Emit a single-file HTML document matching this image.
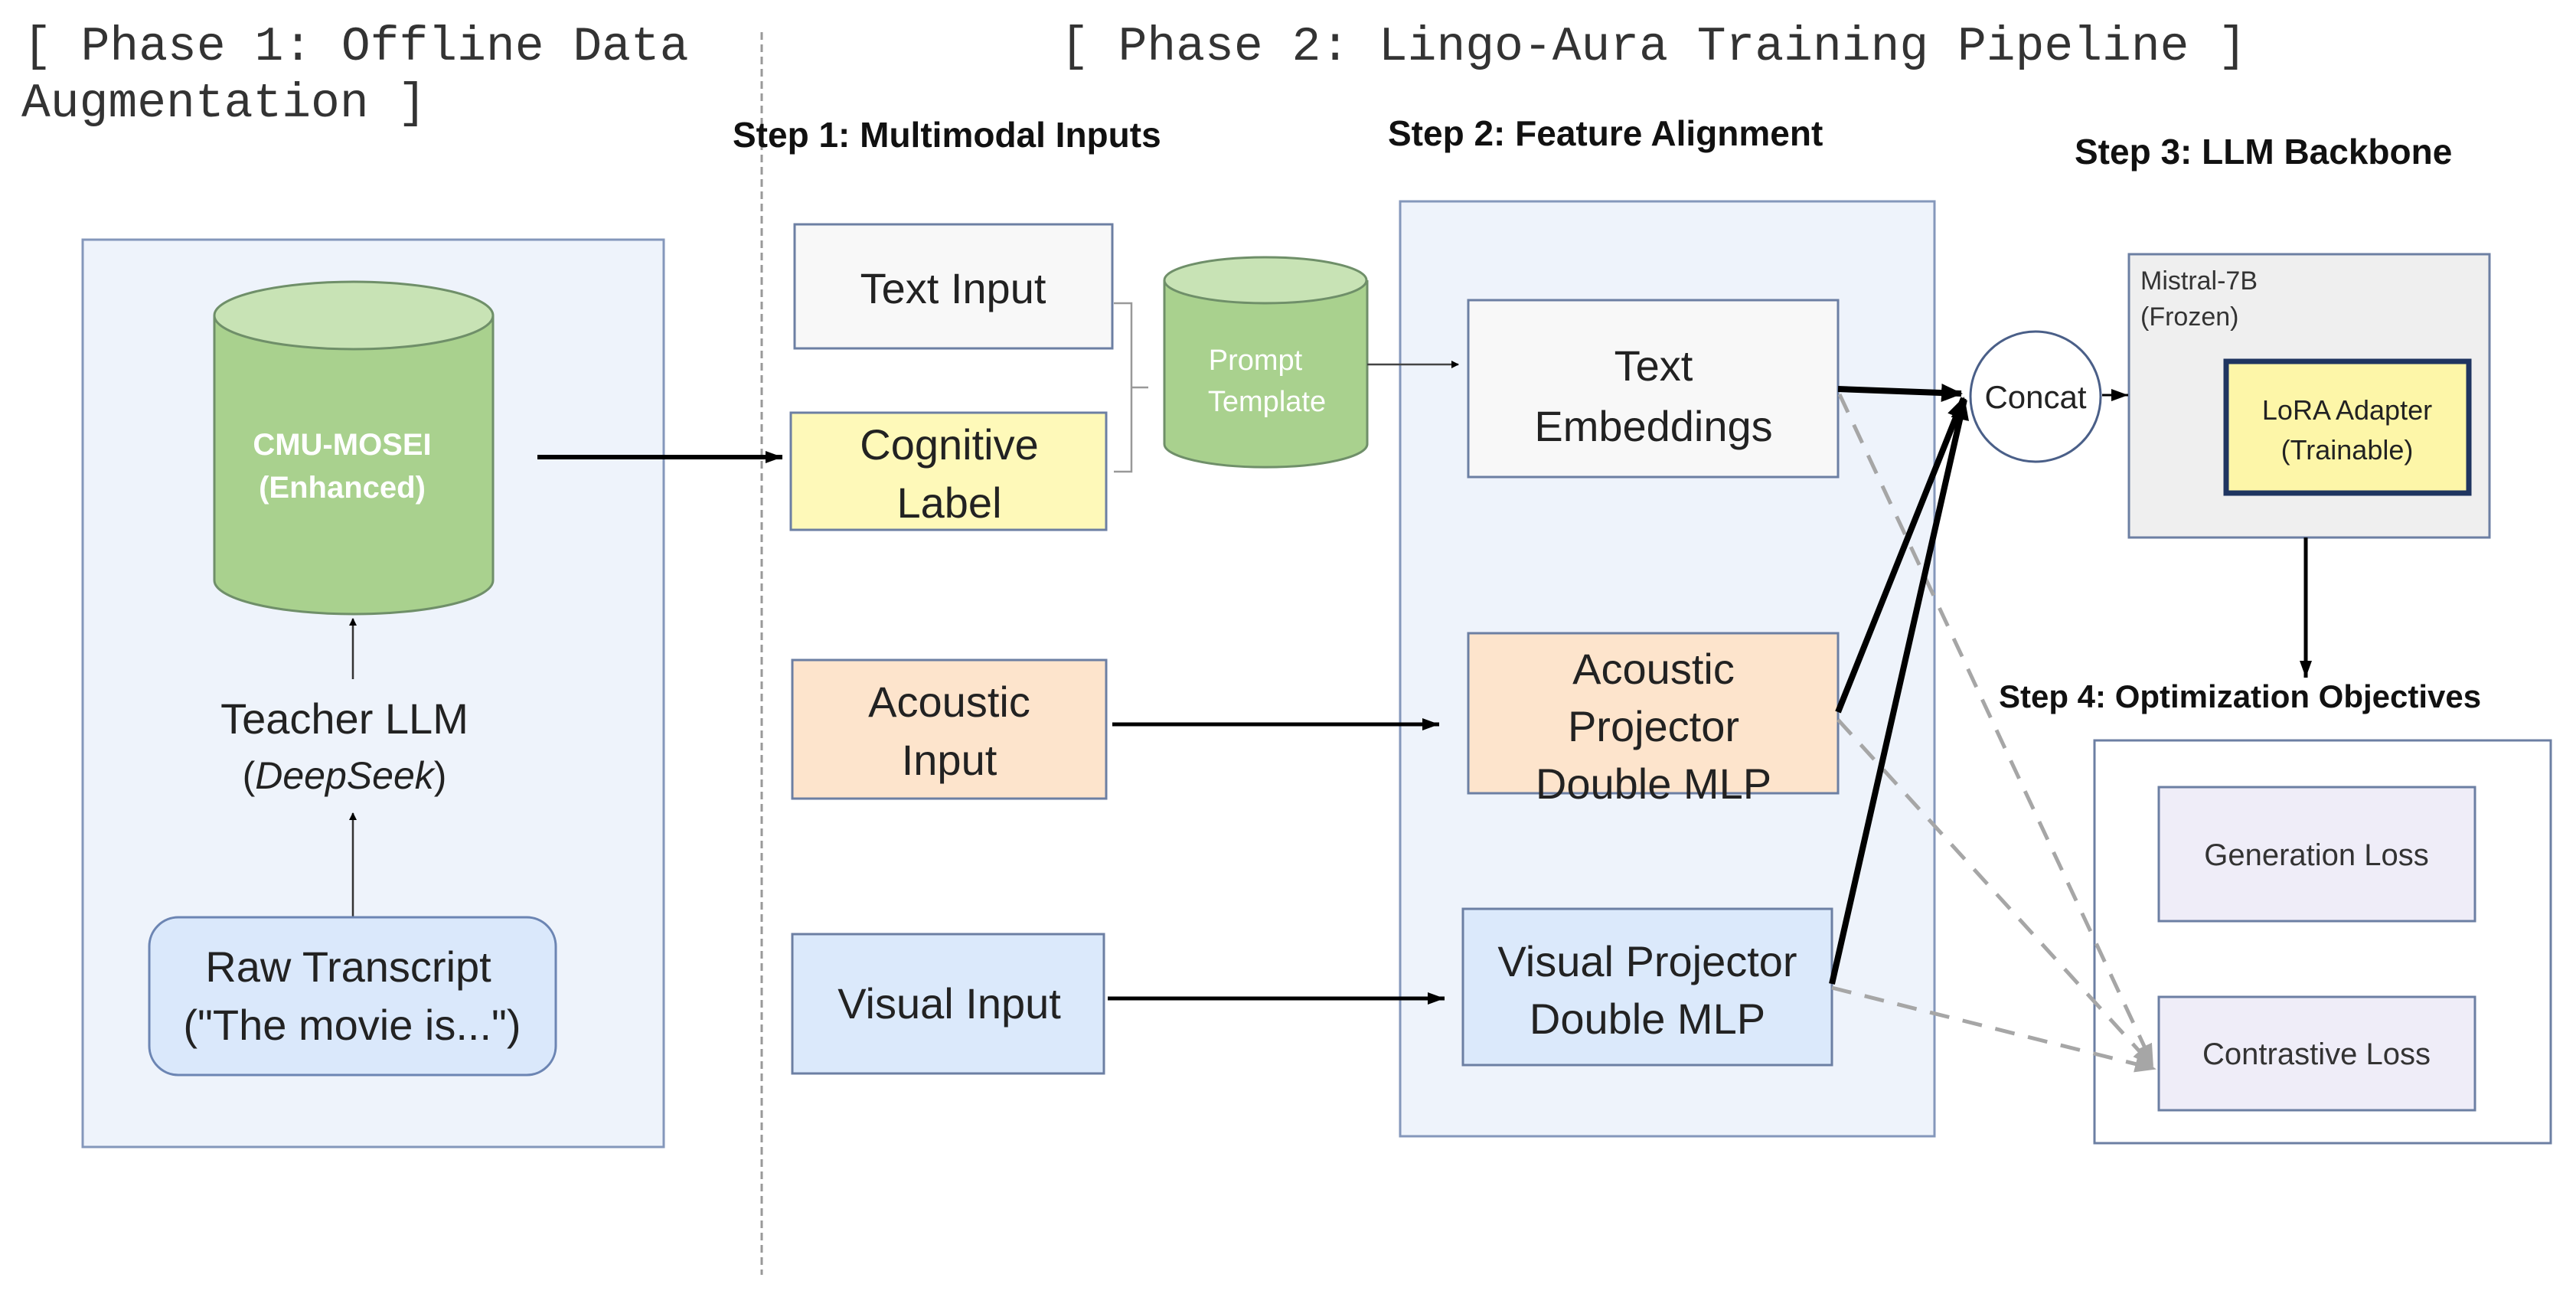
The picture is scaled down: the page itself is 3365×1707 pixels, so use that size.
<!DOCTYPE html>
<html><head><meta charset="utf-8"><style>
html,body{margin:0;padding:0;background:#fff;}
svg{display:block;}
.sans{font-family:"Liberation Sans","DejaVu Sans",sans-serif;}
.mono{font-family:"Liberation Mono","DejaVu Sans Mono",monospace;}
</style></head><body>
<svg width="3365" height="1707" viewBox="0 0 3365 1707" xmlns="http://www.w3.org/2000/svg">
<defs>
<marker id="ah" markerWidth="10" markerHeight="10" refX="9" refY="5" orient="auto" markerUnits="userSpaceOnUse" viewBox="0 0 10 10"><path d="M0,0 L10,5 L0,10 z" fill="#000"/></marker>
<marker id="ahb" markerWidth="30" markerHeight="30" refX="26" refY="15" orient="auto" markerUnits="userSpaceOnUse" viewBox="0 0 30 30"><path d="M0,3 L28,15 L0,27 z" fill="#000"/></marker>
<marker id="ahm" markerWidth="24" markerHeight="24" refX="22" refY="12" orient="auto" markerUnits="userSpaceOnUse" viewBox="0 0 24 24"><path d="M0,4 L22,12 L0,20 z" fill="#000"/></marker>
<marker id="ahg" markerWidth="30" markerHeight="30" refX="26" refY="15" orient="auto" markerUnits="userSpaceOnUse" viewBox="0 0 30 30"><path d="M0,4 L28,15 L0,26 z" fill="#a6a6a6"/></marker>
</defs>

<text class="mono" x="30" y="78" font-size="63" fill="#333">[ Phase 1: Offline Data</text>
<text class="mono" x="28" y="152" font-size="63" fill="#333">Augmentation ]</text>
<text class="mono" x="1385" y="78" font-size="63" fill="#333">[ Phase 2: Lingo-Aura Training Pipeline ]</text>

<line x1="995" y1="42" x2="995" y2="1665" stroke="#999" stroke-width="3" stroke-dasharray="10,6"/>

<text class="sans" x="957" y="192" font-size="46" font-weight="bold" fill="#111">Step 1: Multimodal Inputs</text>
<text class="sans" x="1813" y="190" font-size="46" font-weight="bold" fill="#111">Step 2: Feature Alignment</text>
<text class="sans" x="2710" y="214" font-size="46" font-weight="bold" fill="#111">Step 3: LLM Backbone</text>
<text class="sans" x="2611" y="924" font-size="42" font-weight="bold" fill="#111">Step 4: Optimization Objectives</text>

<rect x="108" y="313" width="759" height="1185" fill="#eef3fb" stroke="#8497bb" stroke-width="3"/>
<path d="M280,412 L280,758 A182,44 0 0 0 644,758 L644,412" fill="#a9d18e" stroke="#6f8f69" stroke-width="3"/>
<ellipse cx="462" cy="412" rx="182" ry="44" fill="#c8e3b5" stroke="#6f8f69" stroke-width="3"/>
<text class="sans" x="447" y="594" font-size="40" font-weight="bold" fill="#fff" text-anchor="middle">CMU-MOSEI</text>
<text class="sans" x="447" y="650" font-size="40" font-weight="bold" fill="#fff" text-anchor="middle">(Enhanced)</text>
<line x1="461" y1="887" x2="461" y2="808" stroke="#333" stroke-width="2.5" marker-end="url(#ah)"/>
<text class="sans" x="450" y="958" font-size="56" fill="#222" text-anchor="middle">Teacher LLM</text>
<text class="sans" x="450" y="1030" font-size="50" fill="#222" text-anchor="middle">(<tspan font-style="italic">DeepSeek</tspan>)</text>
<line x1="461" y1="1198" x2="461" y2="1062" stroke="#333" stroke-width="2.5" marker-end="url(#ah)"/>
<rect x="195" y="1198" width="531" height="206" rx="38" fill="#dae8fb" stroke="#6c85b3" stroke-width="3"/>
<text class="sans" x="455" y="1282" font-size="56" fill="#222" text-anchor="middle">Raw Transcript</text>
<text class="sans" x="460" y="1358" font-size="56" fill="#222" text-anchor="middle">("The movie is...")</text>

<line x1="702" y1="597" x2="1022" y2="597" stroke="#000" stroke-width="6" marker-end="url(#ahm)"/>

<rect x="1038" y="293" width="415" height="162" fill="#f8f8f8" stroke="#6c7fa3" stroke-width="3"/>
<text class="sans" x="1245" y="396" font-size="56" fill="#222" text-anchor="middle">Text Input</text>
<rect x="1033" y="539" width="412" height="153" fill="#fef9b9" stroke="#6c7fa3" stroke-width="3"/>
<text class="sans" x="1240" y="600" font-size="56" fill="#222" text-anchor="middle">Cognitive</text>
<text class="sans" x="1240" y="676" font-size="56" fill="#222" text-anchor="middle">Label</text>
<rect x="1035" y="862" width="410" height="181" fill="#fde4cc" stroke="#6c7fa3" stroke-width="3"/>
<text class="sans" x="1240" y="936" font-size="56" fill="#222" text-anchor="middle">Acoustic</text>
<text class="sans" x="1240" y="1012" font-size="56" fill="#222" text-anchor="middle">Input</text>
<rect x="1035" y="1220" width="407" height="182" fill="#dbe9fb" stroke="#6c7fa3" stroke-width="3"/>
<text class="sans" x="1240" y="1330" font-size="56" fill="#222" text-anchor="middle">Visual Input</text>

<path d="M1455,396 L1478,396 L1478,616 L1455,616 M1478,506 L1500,506" fill="none" stroke="#999" stroke-width="2.5"/>

<path d="M1521,366 L1521,580 A132,30 0 0 0 1786,580 L1786,366" fill="#a9d18e" stroke="#6f8f69" stroke-width="3"/>
<ellipse cx="1653" cy="366" rx="132" ry="30" fill="#c8e3b5" stroke="#6f8f69" stroke-width="3"/>
<text class="sans" x="1640" y="483" font-size="38" fill="#fff" text-anchor="middle">Prompt</text>
<text class="sans" x="1655" y="537" font-size="38" fill="#fff" text-anchor="middle">Template</text>

<rect x="1829" y="263" width="698" height="1221" fill="#eef3fb" stroke="#8497bb" stroke-width="3"/>
<line x1="1786" y1="476" x2="1905" y2="476" stroke="#444" stroke-width="2.5" marker-end="url(#ah)"/>
<rect x="1918" y="392" width="483" height="231" fill="#f8f8f8" stroke="#6c7fa3" stroke-width="3"/>
<text class="sans" x="2160" y="497" font-size="56" fill="#222" text-anchor="middle">Text</text>
<text class="sans" x="2160" y="576" font-size="56" fill="#222" text-anchor="middle">Embeddings</text>
<rect x="1918" y="827" width="483" height="209" fill="#fde4cc" stroke="#6c7fa3" stroke-width="3"/>
<text class="sans" x="2160" y="893" font-size="56" fill="#222" text-anchor="middle">Acoustic</text>
<text class="sans" x="2160" y="968" font-size="56" fill="#222" text-anchor="middle">Projector</text>
<text class="sans" x="2160" y="1043" font-size="56" fill="#222" text-anchor="middle">Double MLP</text>
<rect x="1911" y="1187" width="482" height="204" fill="#dbe9fb" stroke="#6c7fa3" stroke-width="3"/>
<text class="sans" x="2152" y="1275" font-size="56" fill="#222" text-anchor="middle">Visual Projector</text>
<text class="sans" x="2152" y="1350" font-size="56" fill="#222" text-anchor="middle">Double MLP</text>

<line x1="1453" y1="946" x2="1880" y2="946" stroke="#000" stroke-width="5" marker-end="url(#ahm)"/>
<line x1="1447" y1="1304" x2="1887" y2="1304" stroke="#000" stroke-width="5" marker-end="url(#ahm)"/>

<!-- Mistral -->
<rect x="2781" y="332" width="471" height="370" fill="#efefef" stroke="#6c7fa3" stroke-width="3"/>
<text class="sans" x="2796" y="378" font-size="34" fill="#333">Mistral-7B</text>
<text class="sans" x="2796" y="425" font-size="34" fill="#333">(Frozen)</text>
<rect x="2908" y="472" width="317" height="172" fill="#fdf6a8" stroke="#1f3560" stroke-width="7"/>
<text class="sans" x="3066" y="548" font-size="36" fill="#222" text-anchor="middle">LoRA Adapter</text>
<text class="sans" x="3066" y="600" font-size="36" fill="#222" text-anchor="middle">(Trainable)</text>
<line x1="3012" y1="702" x2="3012" y2="885" stroke="#000" stroke-width="5" marker-end="url(#ahm)"/>

<rect x="2736" y="967" width="596" height="526" fill="#fff" stroke="#6c7fa3" stroke-width="3"/>
<rect x="2820" y="1028" width="413" height="175" fill="#efedf8" stroke="#6c7fa3" stroke-width="3"/>
<text class="sans" x="3026" y="1130" font-size="40" fill="#333" text-anchor="middle">Generation Loss</text>
<rect x="2820" y="1302" width="413" height="148" fill="#efedf8" stroke="#6c7fa3" stroke-width="3"/>
<text class="sans" x="3026" y="1390" font-size="40" fill="#333" text-anchor="middle">Contrastive Loss</text>

<g stroke="#a6a6a6" stroke-width="5" stroke-dasharray="26,18" fill="none">
<line x1="2403" y1="515" x2="2812" y2="1390" marker-end="url(#ahg)"/>
<line x1="2401" y1="940" x2="2812" y2="1392" marker-end="url(#ahg)"/>
<line x1="2393" y1="1290" x2="2815" y2="1396" marker-end="url(#ahg)"/>
</g>

<line x1="2401" y1="508" x2="2562" y2="514" stroke="#000" stroke-width="8" marker-end="url(#ahb)"/>
<line x1="2401" y1="930" x2="2565" y2="520" stroke="#000" stroke-width="8" marker-end="url(#ahb)"/>
<line x1="2393" y1="1285" x2="2566" y2="522" stroke="#000" stroke-width="8" marker-end="url(#ahb)"/>

<circle cx="2659" cy="518" r="85" fill="#fff" stroke="#4a5f88" stroke-width="3"/>
<text class="sans" x="2659" y="533" font-size="42" fill="#222" text-anchor="middle">Concat</text>
<line x1="2746" y1="516" x2="2780" y2="516" stroke="#000" stroke-width="3" marker-end="url(#ahm)"/>
</svg>
</body></html>
